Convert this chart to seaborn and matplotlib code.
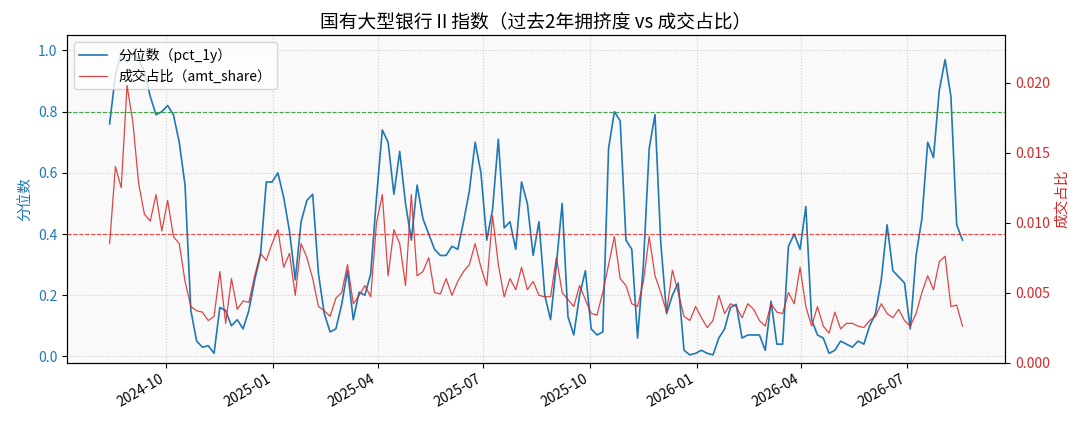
import numpy as np
import pandas as pd
import seaborn as sns
import matplotlib.pyplot as plt
import matplotlib.dates as mdates

plt.rcParams['font.family'] = ['Noto Sans CJK SC', 'DejaVu Sans']
plt.rcParams['axes.unicode_minus'] = False

# sampled every 5 days
dates = pd.date_range('2024-08-13', periods=148, freq='5D')

pct_1y = [
    0.76, 0.92, 0.99, 0.96, 0.99, 0.97, 0.93, 0.85, 0.79, 0.80,
    0.82, 0.79, 0.70, 0.56, 0.15, 0.05, 0.03, 0.035, 0.01, 0.16,
    0.15, 0.10, 0.12, 0.09, 0.15, 0.25, 0.33, 0.57, 0.57, 0.60,
    0.52, 0.41, 0.25, 0.44, 0.51, 0.53, 0.27, 0.14, 0.08, 0.09,
    0.17, 0.28, 0.12, 0.21, 0.20, 0.27, 0.52, 0.74, 0.70, 0.53,
    0.67, 0.50, 0.38, 0.56, 0.45, 0.40, 0.35, 0.33, 0.33, 0.36,
    0.35, 0.44, 0.54, 0.70, 0.60, 0.38, 0.48, 0.71, 0.42, 0.44,
    0.35, 0.57, 0.50, 0.33, 0.44, 0.20, 0.12, 0.30, 0.50, 0.13,
    0.07, 0.20, 0.28, 0.09, 0.07, 0.08, 0.68, 0.80, 0.77, 0.38,
    0.35, 0.06, 0.30, 0.68, 0.79, 0.37, 0.14, 0.20, 0.24, 0.02,
    0.005, 0.01, 0.02, 0.01, 0.005, 0.06, 0.09, 0.16, 0.17, 0.06,
    0.07, 0.07, 0.07, 0.02, 0.18, 0.04, 0.04, 0.36, 0.40, 0.35,
    0.49, 0.12, 0.07, 0.06, 0.01, 0.02, 0.05, 0.04, 0.03, 0.05,
    0.04, 0.10, 0.14, 0.25, 0.43, 0.28, 0.26, 0.24, 0.09, 0.33,
    0.45, 0.70, 0.65, 0.87, 0.97, 0.85, 0.43, 0.38,
]

amt_share = [
    0.0085, 0.0140, 0.0125, 0.0198, 0.0172, 0.0128, 0.0106, 0.0101, 0.0120, 0.0094,
    0.0116, 0.0090, 0.0085, 0.0058, 0.0040, 0.0037, 0.0036, 0.0030, 0.0033, 0.0065,
    0.0028, 0.0060, 0.0038, 0.0044, 0.0043, 0.0062, 0.0078, 0.0073, 0.0085, 0.0095,
    0.0068, 0.0078, 0.0048, 0.0085, 0.0075, 0.0060, 0.0040, 0.0037, 0.0033, 0.0046,
    0.0050, 0.0070, 0.0042, 0.0048, 0.0055, 0.0047, 0.0100, 0.0120, 0.0062, 0.0095,
    0.0085, 0.0055, 0.0120, 0.0062, 0.0065, 0.0075, 0.0050, 0.0049, 0.0060, 0.0048,
    0.0058, 0.0065, 0.0070, 0.0085, 0.0068, 0.0055, 0.0105, 0.0070, 0.0047, 0.0060,
    0.0052, 0.0068, 0.0052, 0.0058, 0.0048, 0.0047, 0.0047, 0.0075, 0.0050, 0.0045,
    0.0040, 0.0055, 0.0045, 0.0035, 0.0034, 0.0050, 0.0070, 0.0090, 0.0060, 0.0055,
    0.0042, 0.0040, 0.0058, 0.0090, 0.0062, 0.0050, 0.0036, 0.0066, 0.0050, 0.0033,
    0.0030, 0.0040, 0.0032, 0.0025, 0.0030, 0.0048, 0.0035, 0.0042, 0.0040, 0.0032,
    0.0042, 0.0038, 0.0030, 0.0026, 0.0042, 0.0036, 0.0035, 0.0050, 0.0042, 0.0068,
    0.0040, 0.0026, 0.0040, 0.0026, 0.0021, 0.0036, 0.0024, 0.0028, 0.0028, 0.0026,
    0.0025, 0.0030, 0.0033, 0.0042, 0.0035, 0.0032, 0.0038, 0.0030, 0.0026, 0.0035,
    0.0050, 0.0062, 0.0052, 0.0072, 0.0076, 0.0040, 0.0041, 0.0026,
]

high_line = 0.8
low_line = 0.4

blue = '#1f77b4'
red = '#d62728'

fig, ax1 = plt.subplots(figsize=(10.89, 4.29), dpi=100)
ax1.set_facecolor('#f9f9f9')
ax2 = ax1.twinx()

sns.lineplot(x=dates, y=pct_1y, ax=ax1, color=blue, linewidth=1.2,
             label='分位数（pct_1y）', legend=False)
sns.lineplot(x=dates, y=amt_share, ax=ax2, color=red, linewidth=0.9, alpha=0.85,
             label='成交占比（amt_share）', legend=False)

ax1.axhline(high_line, color='#2ca02c', linestyle='--', linewidth=0.8, alpha=0.9)
ax1.axhline(low_line, color='red', linestyle='--', linewidth=0.8, alpha=0.7)

ax1.set_ylim(-0.02, 1.05)
ax2.set_ylim(0, 0.0234)
ax2.set_yticks([0.0, 0.005, 0.01, 0.015, 0.02])
ax2.yaxis.set_major_formatter(plt.FormatStrFormatter('%.3f'))

ax1.set_ylabel('分位数', color=blue, fontsize=10.5)
ax2.set_ylabel('成交占比', color=red, fontsize=10.5)
ax1.tick_params(axis='y', labelcolor=blue)
ax2.tick_params(axis='y', labelcolor=red)
ax1.set_xlabel('')

ax1.xaxis.set_major_locator(mdates.MonthLocator(bymonth=[1, 4, 7, 10]))
ax1.xaxis.set_major_formatter(mdates.DateFormatter('%Y-%m'))
ax1.grid(True, linestyle=':', color='#cccccc', linewidth=0.8)

h1, l1 = ax1.get_legend_handles_labels()
h2, l2 = ax2.get_legend_handles_labels()
ax1.legend(h1 + h2, l1 + l2, loc='upper left', fontsize=10)

ax1.set_title('国有大型银行Ⅱ指数（过去2年拥挤度 vs 成交占比）', fontsize=13.5)

fig.autofmt_xdate()
fig.subplots_adjust(left=0.0615, right=0.923, top=0.918, bottom=0.155)
fig.savefig('out.png', dpi=100)
